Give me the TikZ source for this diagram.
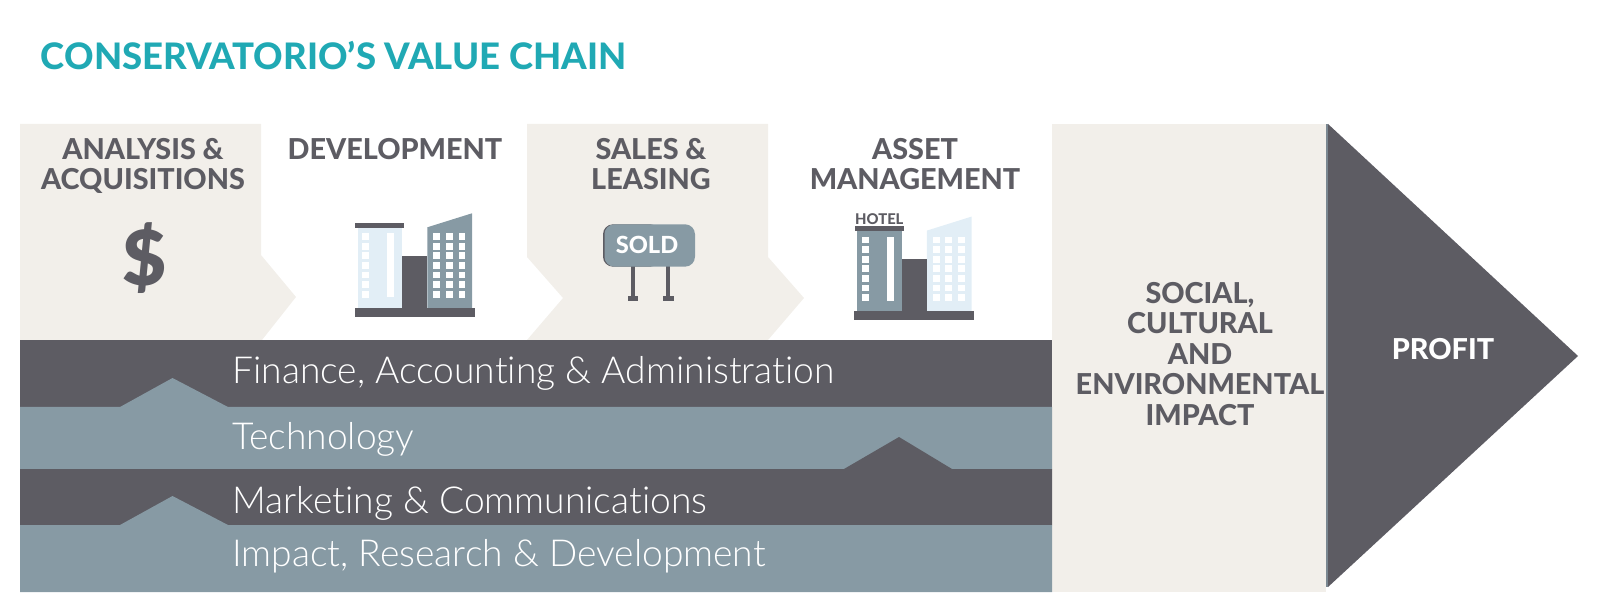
\documentclass[tikz,border=0pt]{standalone}
\usepackage{fontspec}
\setmainfont{Lato}
\newfontfamily\lightfont[Ligatures=NoCommon]{Lato Light}
\newfontfamily\headfont[Ligatures=NoCommon]{Lato Heavy}
\newfontfamily\blackfont{Lato Black}
\usetikzlibrary{positioning}
\definecolor{slatedark}{HTML}{5D5C63}
\definecolor{slateblue}{HTML}{879AA4}
\definecolor{cream}{HTML}{F2EFEA}
\definecolor{teal}{HTML}{20A9B4}
\definecolor{paleblue}{HTML}{E2EEF6}
\tikzset{
  heading/.style={anchor=base, inner sep=0pt, align=center, text=slatedark, font=\headfont\fontsize{14.4}{15.2}\selectfont},
  bandlabel/.style={anchor=base west, inner sep=0pt, text=white, font=\lightfont\fontsize{18.6}{20}\selectfont},
}
% tower pair, shifted by #1, left tower #2, right tower #3
\newcommand{\towers}[3]{
  \begin{scope}[shift={(#1)}]
    \fill [#2] (357.7,227.7) rectangle (402.3,308);
    \fill [slatedark] (355,222.7) rectangle (404.3,227.7);
    \fill [#3] (427.3,227.3) -- (472,213.3) -- (472,308) -- (427.3,308) -- cycle;
    \fill [slatedark] (402.3,255.7) rectangle (427.3,308);
    \fill [slatedark] (354.5,308) rectangle (474.5,317.2);
    \fill [white] (387.3,233.3) rectangle (394,297.3);
    \foreach \row in {0,...,6} {
      \fill [white] (362.3,233.3+9.6*\row) rectangle +(6.8,6.8);
      \foreach \col in {0,1,2}
        \fill [white] (433.3+12.6*\col,233.3+9.6*\row) rectangle +(6.8,6.8);
    }
  \end{scope}
}
\begin{document}
\begin{tikzpicture}[x=0.5pt,y=-0.5pt]
    \useasboundingbox (0,0) rectangle (1600,614);

    \node [anchor=base west, inner sep=0pt, text=teal, font=\headfont\fontsize{18.25}{20}\selectfont] (title) at (40.5,69.5) {CONSERVATORIO’S VALUE CHAIN};

    % Chevrons.
    \fill [cream] (20,124) -- (261,124) -- (261,255) -- (296,297) -- (262,340) -- (20,340) -- cycle;
    \fill [cream] (527,124) -- (768,124) -- (768,257) -- (804,298) -- (768,340) -- (527,340) -- (563,298) -- (527,257) -- cycle;

    % Impact panel and arrow.
    \fill [cream] (1052,124) rectangle (1326,592);
    \fill [slatedark] (1328,124) -- (1578,356) -- (1328,587) -- cycle;
    \fill [slateblue!70!slatedark] (1326,124) -- (1328,124) -- (1328,587) -- (1326,587) -- cycle;

    % Bands.
    \fill [slatedark] (20,340) rectangle (1052,407);
    \fill [slateblue] (20,407) -- (120,407) -- (172.5,378) -- (228,407) -- (1052,407) -- (1052,469) -- (20,469) -- cycle;
    \fill [slatedark] (20,469) -- (844,469) -- (899,437) -- (952,469) -- (1052,469) -- (1052,525) -- (20,525) -- cycle;
    \fill [slateblue] (20,525) -- (120,525) -- (172.5,496) -- (228,525) -- (1052,525) -- (1052,592) -- (20,592) -- cycle;

    \node [bandlabel] (finance)   at (232,384) {Finance, Accounting \& Administration};
    \node [bandlabel] (tech)      at (232,449) {Technology};
    \node [bandlabel] (marketing) at (232,513) {Marketing \& Communications};
    \node [bandlabel] (impact)    at (232,566) {Impact, Research \& Development};

    % Stage headings.
    \node [heading] (analysis) at (143,190) {ANALYSIS \&\\ACQUISITIONS};
    \node [heading] (develop)  at (395,160) {DEVELOPMENT};
    \node [heading] (sales)    at (651,190) {SALES \&\\LEASING};
    \node [heading] (asset)    at (915,190) {ASSET\\MANAGEMENT};
    \node [heading] (social)   at (1200,425) {SOCIAL,\\CULTURAL\\AND\\ENVIRONMENTAL\\IMPACT};
    \node [heading, text=white] (profit) at (1443,360) {PROFIT};

    % Icons.
    \node [anchor=base, inner sep=0pt, text=slatedark, font=\blackfont\fontsize{38}{38}\selectfont] (dollar) at (144.5,286) {\$};

    \towers{0,0}{paleblue}{slateblue}
    \towers{499.5,3.3}{slateblue}{paleblue}
    \node [anchor=base, inner sep=0pt, text=slatedark, font=\headfont\fontsize{7.4}{8}\selectfont] (hotel) at (879.3,224.5) {HOTEL};

    \fill [slatedark] (631.4,266) rectangle (635.4,298);
    \fill [slatedark] (666.4,266) rectangle (670.4,298);
    \fill [slatedark] (628,296.5) rectangle (638,301);
    \fill [slatedark] (663,296.5) rectangle (673.5,301);
    \fill [slatedark, rounded corners=5pt] (603,224.3) rectangle (660,266.7);
    \fill [slateblue, rounded corners=5pt] (604.5,224.3) rectangle (695,266.7);
    \node [anchor=base, inner sep=0pt, text=white, font=\headfont\fontsize{11.8}{12}\selectfont] (sold) at (647,254) {SOLD};
\end{tikzpicture}
\end{document}
